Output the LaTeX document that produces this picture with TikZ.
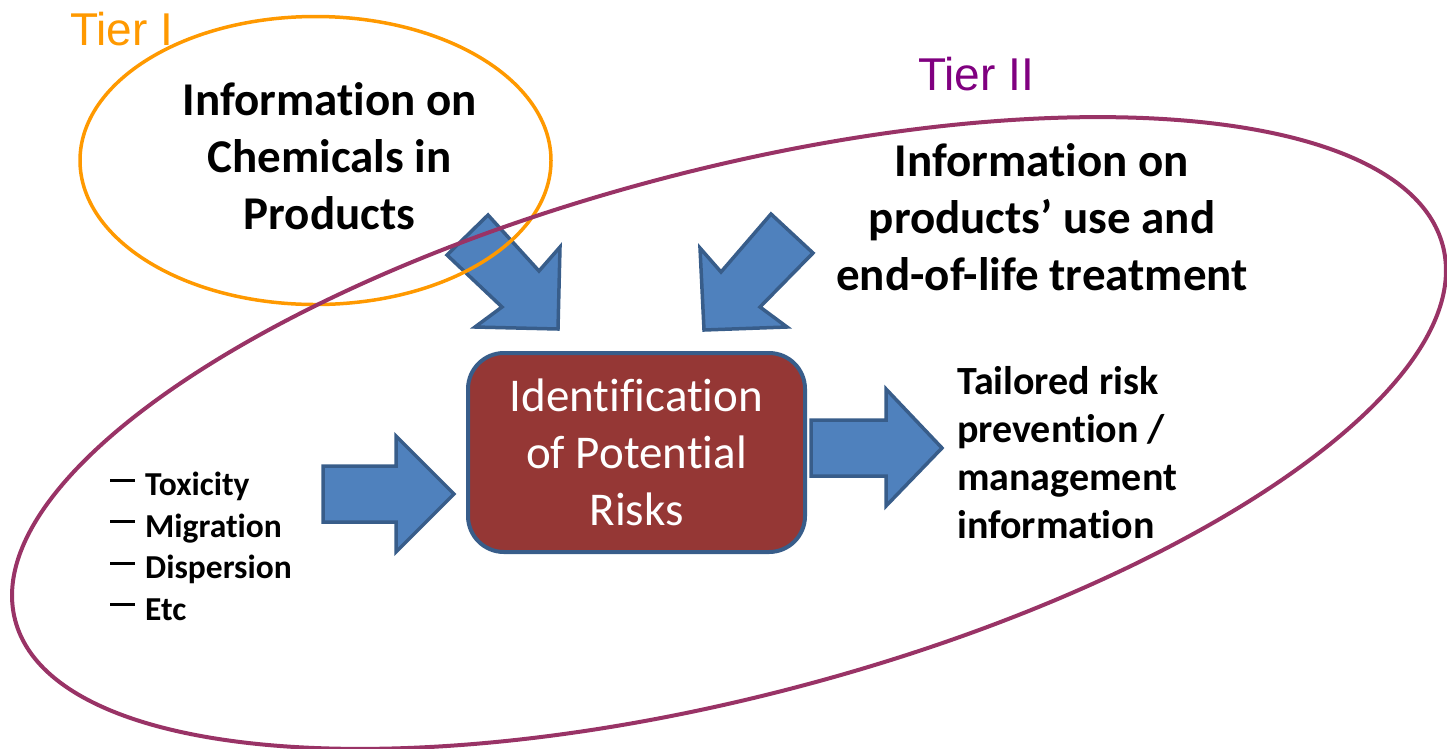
\documentclass[tikz,border=0pt]{standalone}
\usepackage{fontspec}
\setmainfont{Carlito}[Ligatures=NoCommon]
\newfontfamily\arialfont{Liberation Sans}
\definecolor{arrowfill}{HTML}{4F81BD}
\definecolor{arrowline}{HTML}{385D8A}
\definecolor{boxfill}{HTML}{953735}
\definecolor{tierone}{HTML}{FF9900}
\definecolor{tiertwo}{HTML}{993366}
\definecolor{tiertwotext}{HTML}{800080}
\begin{document}
\begin{tikzpicture}[x=1pt,y=-1pt,
  blockarrow/.style={fill=arrowfill, draw=arrowline, line width=3.5pt, line join=miter},
  tierlabel/.style={font=\arialfont\fontsize{46}{55}\selectfont, inner sep=0pt, anchor=base west},
  bigtext/.style={font=\bfseries\fontsize{47}{57}\selectfont, align=center, inner sep=0pt, anchor=north},
  midtext/.style={font=\bfseries\fontsize{40}{48}\selectfont, align=left, inner sep=0pt, anchor=north west},
  listtext/.style={font=\bfseries\fontsize{33.5}{41.5}\selectfont, align=left, inner sep=0pt, anchor=north west},
  riskbox/.style={draw=arrowline, fill=boxfill, line width=4pt, rounded corners=36pt,
    minimum width=337pt, minimum height=199pt, text=white, align=center,
    font=\fontsize{47}{57}\selectfont, inner sep=0pt}]
\useasboundingbox (0,0) rectangle (1447,748);

% block arrows
\draw[blockarrow] (488,215) -- (539,271) -- (560,247) -- (558,329) -- (475,327) -- (502,307) -- (447,255) -- cycle;
\draw[blockarrow] (771,214) -- (813,253) -- (760,307) -- (787,327) -- (704,330) -- (700,248) -- (721,272) -- cycle;
\draw[blockarrow] (323,466) -- (396,466) -- (396,436) -- (454,494) -- (396,552) -- (396,522) -- (323,522) -- cycle;
\draw[blockarrow] (811,420) -- (886,420) -- (886,389) -- (942,448) -- (886,506) -- (886,476) -- (811,476) -- cycle;

% tier ellipses
\draw[tierone, line width=3.5pt] (315.5,160.5) ellipse [x radius=235.5, y radius=144];
\draw[tiertwo, line width=4pt, rotate around={14.7:(729,433)}] (729,433) ellipse [x radius=738, y radius=263];

% labels
\node[tierlabel, text=tierone] (t1) at (70,45) {Tier I};
\node[tierlabel, text=tiertwotext] (t2) at (918,90) {Tier II};

\node[bigtext] (chem) at (329.5,82) {Information on\\Chemicals in\\Products};
\node[bigtext] (use) at (1042,143) {Information on\\products’ use and\\end-of-life treatment};

\node[riskbox] (risk) at (636.5,452.5) {Identification\\of Potential\\Risks};

\node[midtext] (tail) at (957,366) {Tailored risk\\prevention /\\management\\information};

\node[listtext] (list) at (110,472) {\rule[14pt]{25pt}{3pt}\hspace{10pt}Toxicity\\\rule[14pt]{25pt}{3pt}\hspace{10pt}Migration\\\rule[14pt]{25pt}{3pt}\hspace{10pt}Dispersion\\\rule[14pt]{25pt}{3pt}\hspace{10pt}Etc};
\end{tikzpicture}
\end{document}
